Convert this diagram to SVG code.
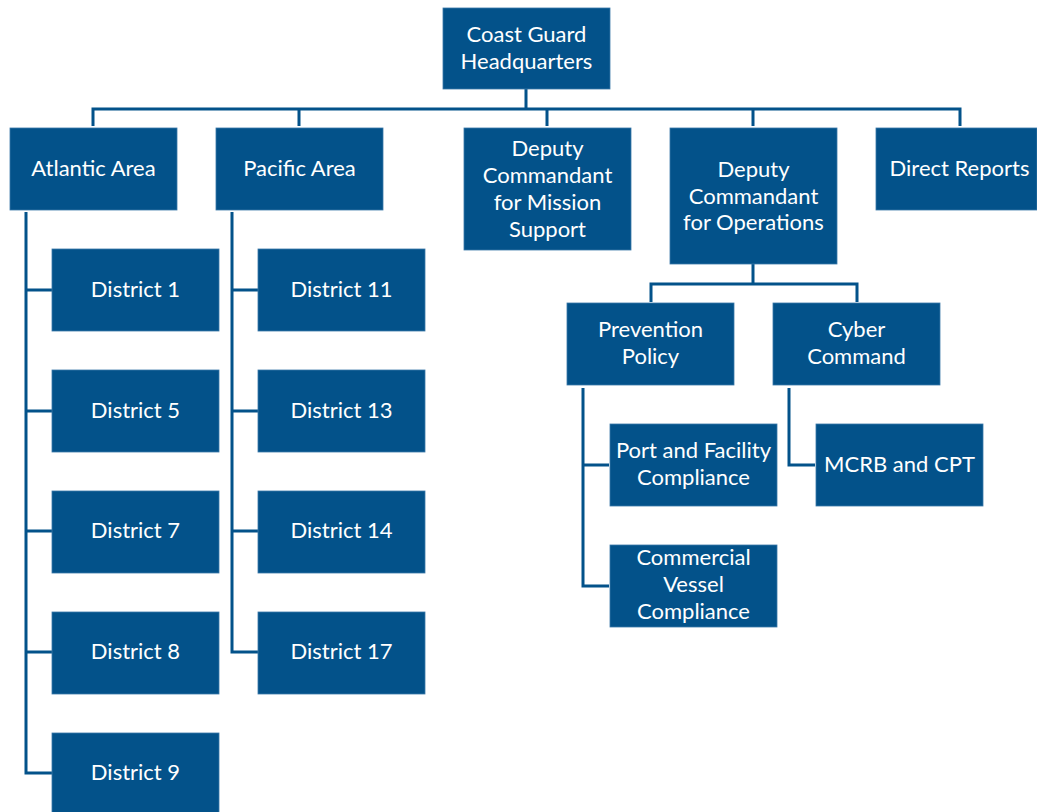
<svg xmlns="http://www.w3.org/2000/svg" width="1037" height="812" viewBox="0 0 1037 812">
<style>
.n{fill:#03528a;stroke:#3a78a8;stroke-width:0.8}
.t{fill:#fff;font-family:Lato,"Open Sans",sans-serif;font-size:22px;text-anchor:middle;dominant-baseline:central}
.c{fill:none;stroke:#03528a;stroke-width:3}
</style>
<rect width="1037" height="812" fill="#fff"/>
<g id="connectors">
<path class="c" d="M526 89V109M93 126V109H960V126M299 109V126M547 109V126M753 109V126"/>
<path class="c" d="M26 212V773H52M26 290H52M26 411H52M26 531H52M26 652H52"/>
<path class="c" d="M232 212V652H258M232 290H258M232 411H258M232 531H258"/>
<path class="c" d="M753 264V284M651 302V284H857V302"/>
<path class="c" d="M583 388V586H609M583 465H609"/>
<path class="c" d="M789 388V465H815"/>
</g>
<g id="hq"><rect class="n" x="443" y="8" width="167" height="81"/><text class="t" x="526.5" y="33">Coast Guard</text><text class="t" x="526.5" y="60">Headquarters</text></g>
<g id="atlantic"><rect class="n" x="10" y="128" width="167" height="82"/><text class="t" x="93.5" y="167">Atlantic Area</text></g>
<g id="pacific"><rect class="n" x="216" y="128" width="167" height="82"/><text class="t" x="299.5" y="167">Pacific Area</text></g>
<g id="dcms"><rect class="n" x="464" y="128" width="167" height="122"/><text class="t" x="547.5" y="147">Deputy</text><text class="t" x="547.5" y="174">Commandant</text><text class="t" x="547.5" y="201">for Mission</text><text class="t" x="547.5" y="228">Support</text></g>
<g id="dco"><rect class="n" x="670" y="128" width="167" height="136"/><text class="t" x="753.5" y="168">Deputy</text><text class="t" x="753.5" y="195">Commandant</text><text class="t" x="753.5" y="221">for Operations</text></g>
<g id="direct"><rect class="n" x="876" y="128" width="161" height="82"/><text class="t" x="959.5" y="167">Direct Reports</text></g>
<g id="d1"><rect class="n" x="52" y="249" width="167" height="82"/><text class="t" x="135.5" y="288">District 1</text></g>
<g id="d5"><rect class="n" x="52" y="370" width="167" height="82"/><text class="t" x="135.5" y="409">District 5</text></g>
<g id="d7"><rect class="n" x="52" y="491" width="167" height="82"/><text class="t" x="135.5" y="529">District 7</text></g>
<g id="d8"><rect class="n" x="52" y="612" width="167" height="82"/><text class="t" x="135.5" y="650">District 8</text></g>
<g id="d9"><rect class="n" x="52" y="733" width="167" height="82"/><text class="t" x="135.5" y="771">District 9</text></g>
<g id="d11"><rect class="n" x="258" y="249" width="167" height="82"/><text class="t" x="341.5" y="288">District 11</text></g>
<g id="d13"><rect class="n" x="258" y="370" width="167" height="82"/><text class="t" x="341.5" y="409">District 13</text></g>
<g id="d14"><rect class="n" x="258" y="491" width="167" height="82"/><text class="t" x="341.5" y="529">District 14</text></g>
<g id="d17"><rect class="n" x="258" y="612" width="167" height="82"/><text class="t" x="341.5" y="650">District 17</text></g>
<g id="prev"><rect class="n" x="567" y="303" width="167" height="82"/><text class="t" x="650.5" y="328">Prevention</text><text class="t" x="650.5" y="355">Policy</text></g>
<g id="cyber"><rect class="n" x="773" y="303" width="167" height="82"/><text class="t" x="856.5" y="328">Cyber</text><text class="t" x="856.5" y="355">Command</text></g>
<g id="port"><rect class="n" x="610" y="424" width="167" height="82"/><text class="t" x="693.5" y="449">Port and Facility</text><text class="t" x="693.5" y="476">Compliance</text></g>
<g id="cvc"><rect class="n" x="610" y="545" width="167" height="82"/><text class="t" x="693.5" y="556">Commercial</text><text class="t" x="693.5" y="583">Vessel</text><text class="t" x="693.5" y="610">Compliance</text></g>
<g id="mcrb"><rect class="n" x="816" y="424" width="167" height="82"/><text class="t" x="899.5" y="463">MCRB and CPT</text></g>
</svg>
